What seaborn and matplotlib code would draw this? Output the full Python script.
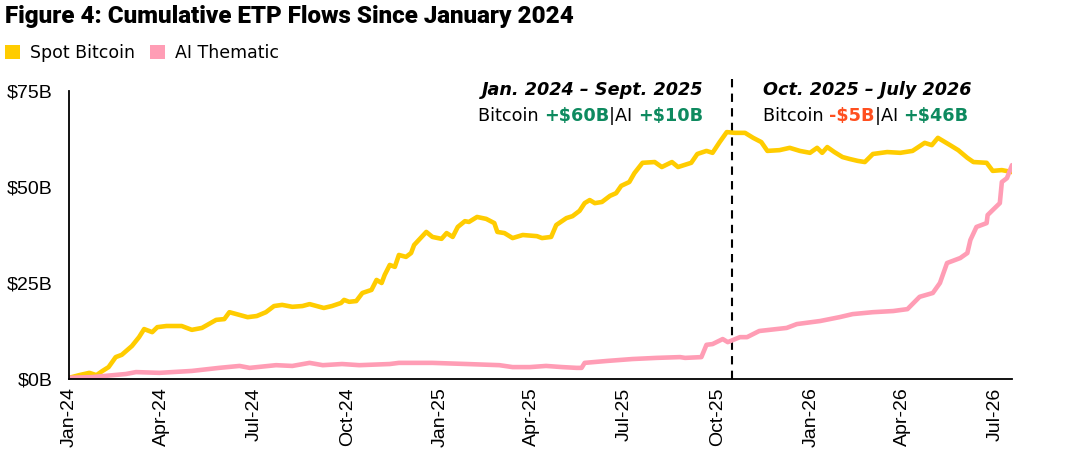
import matplotlib
matplotlib.use("Agg")
import matplotlib.pyplot as plt
import matplotlib.dates as mdates
from matplotlib.patches import Patch
import seaborn as sns
import pandas as pd

# ---------------- data (USD billions, cumulative) ----------------
btc_dates = [
    "2024-01-01", "2024-01-11", "2024-01-21", "2024-01-28", "2024-02-03", "2024-02-09",
    "2024-02-16", "2024-02-22", "2024-03-03", "2024-03-10", "2024-03-15", "2024-03-23",
    "2024-03-28", "2024-04-06", "2024-04-21", "2024-05-01", "2024-05-11", "2024-05-25",
    "2024-06-02", "2024-06-07", "2024-06-14", "2024-06-25", "2024-07-04", "2024-07-13",
    "2024-07-21", "2024-07-29", "2024-08-08", "2024-08-18", "2024-08-25", "2024-09-01",
    "2024-09-08", "2024-09-16", "2024-09-25", "2024-09-28", "2024-10-03", "2024-10-10",
    "2024-10-16", "2024-10-25", "2024-10-30", "2024-11-04", "2024-11-07", "2024-11-12",
    "2024-11-17", "2024-11-21", "2024-11-28", "2024-12-03", "2024-12-06", "2024-12-18",
    "2024-12-24", "2025-01-02", "2025-01-07", "2025-01-13", "2025-01-18", "2025-01-25",
    "2025-01-29", "2025-02-06", "2025-02-15", "2025-02-23", "2025-02-26", "2025-03-05",
    "2025-03-13", "2025-03-23", "2025-04-06", "2025-04-11", "2025-04-20", "2025-04-25",
    "2025-05-05", "2025-05-11", "2025-05-18", "2025-05-23", "2025-05-28", "2025-06-02",
    "2025-06-09", "2025-06-17", "2025-06-23", "2025-06-28", "2025-07-06", "2025-07-11",
    "2025-07-19", "2025-07-31", "2025-08-07", "2025-08-17", "2025-08-23", "2025-09-05",
    "2025-09-11", "2025-09-20", "2025-09-26", "2025-10-03", "2025-10-10", "2025-10-18",
    "2025-10-28", "2025-11-05", "2025-11-13", "2025-11-19", "2025-12-01", "2025-12-11",
    "2025-12-21", "2025-12-31", "2026-01-07", "2026-01-12", "2026-01-17", "2026-01-24",
    "2026-02-01", "2026-02-08", "2026-02-16", "2026-02-23", "2026-03-03", "2026-03-17",
    "2026-03-30", "2026-04-11", "2026-04-23", "2026-04-30", "2026-05-06", "2026-05-18",
    "2026-05-26", "2026-06-04", "2026-06-10", "2026-06-23", "2026-06-29", "2026-07-08",
    "2026-07-18",
]
btc_values = [
    0.3, 1.0, 1.6, 1.0, 2.1, 3.1,
    5.7, 6.3, 8.6, 10.9, 13.0, 12.2,
    13.5, 13.8, 13.8, 12.8, 13.3, 15.4,
    15.6, 17.4, 16.9, 16.1, 16.4, 17.4,
    19.0, 19.3, 18.8, 19.0, 19.5, 19.0,
    18.5, 19.0, 19.8, 20.6, 20.1, 20.3,
    22.4, 23.2, 25.8, 25.0, 27.1, 29.7,
    29.2, 32.3, 31.8, 32.8, 34.9, 38.3,
    37.0, 36.5, 38.0, 37.0, 39.6, 41.1,
    40.9, 42.2, 41.7, 40.6, 38.3, 38.0,
    36.7, 37.5, 37.2, 36.7, 37.0, 40.1,
    41.9, 42.4, 43.8, 45.8, 46.6, 45.8,
    46.1, 47.7, 48.4, 50.3, 51.3, 53.6,
    56.3, 56.5, 55.2, 56.5, 55.2, 56.3,
    58.6, 59.4, 58.9, 61.7, 64.3, 64.1,
    64.1, 62.8, 61.7, 59.4, 59.6, 60.2,
    59.4, 58.9, 60.2, 58.9, 60.4, 59.1,
    57.8, 57.3, 56.8, 56.5, 58.6, 59.1,
    58.9, 59.4, 61.5, 60.9, 62.8, 60.9,
    59.6, 57.6, 56.5, 56.3, 54.2, 54.4,
    53.9,
]

ai_dates = [
    "2024-01-01", "2024-01-24", "2024-02-26", "2024-03-07", "2024-03-30", "2024-05-01",
    "2024-05-28", "2024-06-17", "2024-06-27", "2024-07-23", "2024-08-08", "2024-08-25",
    "2024-09-07", "2024-09-26", "2024-10-13", "2024-11-12", "2024-11-21", "2024-12-24",
    "2025-01-27", "2025-02-28", "2025-03-13", "2025-03-30", "2025-04-15", "2025-05-01",
    "2025-05-15", "2025-05-20", "2025-05-23", "2025-06-14", "2025-07-09", "2025-08-02",
    "2025-08-25", "2025-08-30", "2025-09-15", "2025-09-20", "2025-09-26", "2025-10-06",
    "2025-10-11", "2025-10-23", "2025-10-30", "2025-11-11", "2025-12-08", "2025-12-18",
    "2026-01-10", "2026-01-29", "2026-02-11", "2026-03-03", "2026-03-23", "2026-04-06",
    "2026-04-18", "2026-05-01", "2026-05-08", "2026-05-15", "2026-05-28", "2026-06-04",
    "2026-06-07", "2026-06-13", "2026-06-23", "2026-06-24", "2026-06-29", "2026-07-06",
    "2026-07-08", "2026-07-13", "2026-07-18",
]
ai_values = [
    0.3, 0.5, 1.3, 1.8, 1.6, 2.1,
    2.9, 3.4, 2.9, 3.6, 3.4, 4.2,
    3.6, 3.9, 3.6, 3.9, 4.2, 4.2,
    3.9, 3.6, 3.1, 3.1, 3.4, 3.1,
    2.9, 2.9, 4.2, 4.7, 5.2, 5.5,
    5.7, 5.5, 5.7, 8.9, 9.1, 10.4,
    9.6, 10.9, 10.9, 12.5, 13.3, 14.3,
    15.1, 16.1, 16.9, 17.4, 17.7, 18.2,
    21.4, 22.4, 25.0, 30.2, 31.5, 32.8,
    36.2, 39.6, 40.6, 42.7, 44.0, 45.8,
    51.3, 52.3, 55.7,
]

series_names = ["Spot Bitcoin", "AI Thematic"]
y_ticks = [0, 25, 50, 75]
y_tick_labels = ["$0B", "$25B", "$50B", "$75B"]
split_date = "2025-10-15"
period_titles = ["Jan. 2024 \u2013 Sept. 2025", "Oct. 2025 \u2013 July 2026"]

# ---------------- styling ----------------
YELLOW = "#FFCC00"
PINK = "#FF9DB5"
GREEN = "#0E8A5F"
RED = "#FF4F1F"

df = pd.concat([
    pd.DataFrame({"date": pd.to_datetime(btc_dates), "value": btc_values, "series": series_names[0]}),
    pd.DataFrame({"date": pd.to_datetime(ai_dates), "value": ai_values, "series": series_names[1]}),
])

sns.set_theme(style="white")
plt.rcParams["font.family"] = ["DejaVu Sans"]
plt.rcParams["text.color"] = "black"
plt.rcParams["xtick.color"] = "black"
plt.rcParams["ytick.color"] = "black"

fig = plt.figure(figsize=(10.7, 4.67), dpi=100)
W, H = 1070, 467
ax = fig.add_axes([69 / W, 1 - 379 / H, (1012 - 69) / W, (379 - 91) / H])

sns.lineplot(data=df, x="date", y="value", hue="series", palette=[YELLOW, PINK],
             hue_order=series_names, linewidth=3.3, ax=ax, legend=False, estimator=None)

ax.set_xlim(pd.Timestamp("2024-01-01"), pd.Timestamp("2026-07-18"))
ax.set_ylim(0, 75)
ax.set_yticks(y_ticks)
ax.set_yticklabels(y_tick_labels)
ax.xaxis.set_major_locator(mdates.MonthLocator(bymonth=[1, 4, 7, 10]))
ax.xaxis.set_major_formatter(mdates.DateFormatter("%b-%y"))
for lab in ax.get_xticklabels():
    lab.set_rotation(90)
ax.tick_params(axis="both", length=0, labelsize=14, colors="black")
ax.tick_params(axis="x", pad=6)
ax.tick_params(axis="y", pad=12)
for lab in ax.get_xticklabels() + ax.get_yticklabels():
    lab.set_fontfamily(["Liberation Sans", "DejaVu Sans"])
ax.set_xlabel("")
ax.set_ylabel("")
for s in ["top", "right"]:
    ax.spines[s].set_visible(False)
for s in ["left", "bottom"]:
    ax.spines[s].set_color("black")
    ax.spines[s].set_linewidth(1.3)
ax.grid(False)

ax.axvline(pd.Timestamp(split_date), ymin=0, ymax=1.05, color="black",
           linestyle=(0, (4, 3)), linewidth=1.5, clip_on=False, zorder=1)

# title
fig.text(5 / W, 1 - 17 / H, "Figure 4: Cumulative ETP Flows Since January 2024",
         fontsize=17.4, fontweight="black", color="black", va="center", ha="left",
         family=["Roboto", "DejaVu Sans"])

# legend
handles = [Patch(facecolor=YELLOW, edgecolor="none"), Patch(facecolor=PINK, edgecolor="none")]
fig.legend(handles, series_names, loc="center left", bbox_to_anchor=(5 / W, 1 - 53 / H),
           ncol=2, frameon=False, fontsize=12.5, handlelength=0.86, handleheight=0.86,
           handletextpad=0.57, columnspacing=0.86, borderpad=0, borderaxespad=0,
           labelcolor="black")

# period annotations
FS = 12.7
fig.text(703 / W, 1 - 90 / H, period_titles[0], fontsize=FS, fontweight="bold",
         fontstyle="italic", ha="right", va="center", color="black")
fig.text(763 / W, 1 - 90 / H, period_titles[1], fontsize=FS, fontweight="bold",
         fontstyle="italic", ha="left", va="center", color="black")

left_parts = [("Bitcoin ", "black", "normal"), ("+$60B", GREEN, "bold"),
              ("|AI ", "black", "normal"), ("+$10B", GREEN, "bold")]
right_parts = [("Bitcoin ", "black", "normal"), ("-$5B", RED, "bold"),
               ("|AI ", "black", "normal"), ("+$46B", GREEN, "bold")]

# right-aligned group (build from the last piece backwards)
prev = None
for s, c, w in reversed(left_parts):
    if prev is None:
        prev = fig.text(703 / W, 1 - 116 / H, s, color=c, fontweight=w, fontsize=FS,
                        ha="right", va="center")
    else:
        prev = ax.annotate(s, xy=(0, 0), xycoords=prev, ha="right", va="bottom",
                           color=c, fontweight=w, fontsize=FS)

prev = None
for s, c, w in right_parts:
    if prev is None:
        prev = fig.text(763 / W, 1 - 116 / H, s, color=c, fontweight=w, fontsize=FS,
                        ha="left", va="center")
    else:
        prev = ax.annotate(s, xy=(1, 0), xycoords=prev, ha="left", va="bottom",
                           color=c, fontweight=w, fontsize=FS)

fig.savefig("out.png", dpi=100, facecolor="white")
